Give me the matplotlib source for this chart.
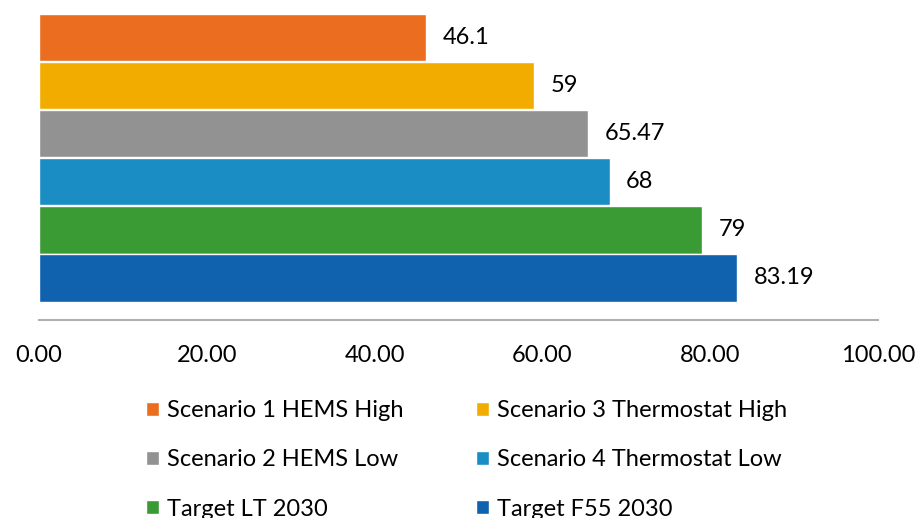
import matplotlib.pyplot as plt
from matplotlib.ticker import FormatStrFormatter

plt.rcParams['font.family'] = ['Lato', 'DejaVu Sans']

# bars, top to bottom
scenarios = ["Scenario 1 HEMS High", "Scenario 3 Thermostat High",
             "Scenario 2 HEMS Low", "Scenario 4 Thermostat Low",
             "Target LT 2030", "Target F55 2030"]
values = [46.1, 59, 65.47, 68, 79, 83.19]
value_labels = ["46.1", "59", "65.47", "68", "79", "83.19"]
colors = ["#EB6D20", "#F2AC00", "#929292", "#1A8DC4", "#3A9B35", "#1062AF"]
xticks = [0, 20, 40, 60, 80, 100]

fig = plt.figure(figsize=(9.18, 5.18), dpi=100)
ax = fig.add_axes([39 / 918, 1 - 320 / 518, (878 - 39) / 918, 320 / 518])

bars = {}
for i, (name, v, lab, c) in enumerate(zip(scenarios, values, value_labels, colors)):
    b = ax.barh(i, v, height=0.98, color=c, edgecolor="white", linewidth=1.0, label=name)
    bars[name] = b
    ax.annotate(lab, (v, i), xytext=(12, 0), textcoords="offset points",
                va="center", ha="left", fontsize=17, color="black")

ax.set_ylim(5.875, -0.79)
ax.set_xlim(0, 100)
ax.set_xticks(xticks)
ax.xaxis.set_major_formatter(FormatStrFormatter("%.2f"))
ax.tick_params(axis="x", length=0, pad=18, labelsize=17)
ax.set_yticks([])
for s in ["top", "right", "left"]:
    ax.spines[s].set_visible(False)
ax.spines["bottom"].set_color("#B0B0B0")
ax.spines["bottom"].set_linewidth(1.5)

# legend in two columns, filled column by column; last row runs off the bottom edge
order = ["Scenario 1 HEMS High", "Scenario 2 HEMS Low", "Target LT 2030",
         "Scenario 3 Thermostat High", "Scenario 4 Thermostat Low", "Target F55 2030"]
fig.legend([bars[n] for n in order], order, ncol=2, frameon=False,
           loc="upper left", bbox_to_anchor=(146 / 918, 1 - 400 / 518),
           fontsize=17, handlelength=0.55, handleheight=0.55, handletextpad=0.35,
           labelspacing=1.2, columnspacing=3.05, borderaxespad=0, borderpad=0)

fig.savefig("out.png", dpi=100)
